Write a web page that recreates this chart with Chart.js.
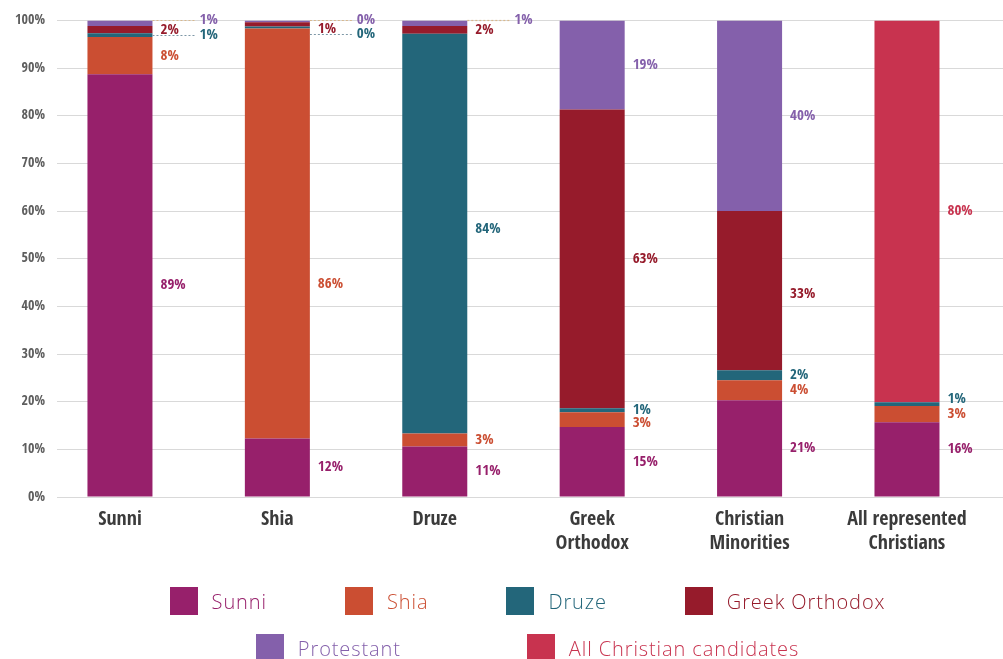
<!DOCTYPE html>
<html>
<head>
<meta charset="utf-8">
<script src="https://cdn.jsdelivr.net/npm/chart.js@4/dist/chart.umd.min.js"></script>
<style>
  html, body { margin: 0; padding: 0; background: #ffffff; }
  #wrap { position: relative; width: 1003px; height: 659px; overflow: hidden; }
  #c { position: absolute; left: 0; top: 0; }
  .lrow { position: absolute; left: 52px; right: 0; display: flex; justify-content: center; align-items: center; }
  .litem { display: flex; align-items: center; font-family: 'Open Sans', 'Noto Sans', sans-serif; font-weight: 300; font-size: 20px; letter-spacing: 0.9px; white-space: nowrap; }
  .lbox { width: 28px; height: 28px; margin-right: 14px; }
</style>
</head>
<body>
<div id="wrap">
  <canvas id="c" width="1003" height="659"></canvas>
  <div class="lrow" id="row1" style="top:587px; gap:78px;"></div>
  <div class="lrow" id="row2" style="top:634px; gap:126px;"></div>
</div>
<script>
// ---- data ----
const categories = ['Sunni', 'Shia', 'Druze', 'Greek Orthodox', 'Christian Minorities', 'All represented Christians'];
const xTickLabels = [['Sunni'], ['Shia'], ['Druze'], ['Greek', 'Orthodox'], ['Christian', 'Minorities'], ['All represented', 'Christians']];
const seriesNames = ['Sunni', 'Shia', 'Druze', 'Greek Orthodox', 'Protestant', 'All Christian candidates'];
const sunniVals      = [88.7, 12.3, 10.6, 14.7, 20.3, 15.7];
const shiaVals       = [7.8, 86.0, 2.7, 3.1, 4.2, 3.4];
const druzeVals      = [0.8, 0.4, 83.9, 0.8, 2.1, 0.8];
const greekOrthVals  = [1.5, 0.9, 1.6, 62.7, 33.4, null];
const protestantVals = [1.2, 0.4, 1.2, 18.7, 40.0, null];
const allChristVals  = [null, null, null, null, null, 80.1];
const valueLabels = [
  ['89%', '12%', '11%', '15%', '21%', '16%'],
  ['8%', '86%', '3%', '3%', '4%', '3%'],
  ['1%', '0%', '84%', '1%', '2%', '1%'],
  ['2%', '1%', '2%', '63%', '33%', null],
  ['1%', '0%', '1%', '19%', '40%', null],
  [null, null, null, null, null, '80%']
];
const yTickValues = [0, 10, 20, 30, 40, 50, 60, 70, 80, 90, 100];

// ---- styles ----
const colors = ['#97206B', '#CB4E32', '#23667A', '#961B2B', '#8460AB', '#C8334F'];
const condensed = "'Open Sans Condensed', 'Liberation Sans Narrow', 'DejaVu Sans Condensed', 'Roboto Condensed', 'Open Sans', sans-serif";
// label placement tweaks (value-axis units), [category, dataset]
const labelTweaks = [
  { c: 0, d: 4, y: 100.1, leader: true, leaderColor: '#d8b88e' },
  { c: 0, d: 2, leader: true, leaderColor: '#7d97a6' },
  { c: 1, d: 1, y: 44.6 },
  { c: 1, d: 3, y: 98.2 },
  { c: 1, d: 4, y: 100.1, leader: true, leaderColor: '#d8b88e' },
  { c: 1, d: 2, y: 97.1, leader: true, leaderColor: '#7d97a6' },
  { c: 2, d: 4, y: 100.1, leader: true, leaderColor: '#d8b88e' },
  { c: 2, d: 2, y: 56.2 },
  { c: 3, d: 1, y: 15.6 },
  { c: 4, d: 3, y: 42.6 },
  { c: 5, d: 0, y: 10.0 },
  { c: 5, d: 2, y: 20.5 }
];

const allVals = [sunniVals, shiaVals, druzeVals, greekOrthVals, protestantVals, allChristVals];
const datasets = seriesNames.map((name, i) => ({
  label: name,
  data: allVals[i].map((v, k) => ({ x: k, y: v })),
  backgroundColor: colors[i],
  borderWidth: 0,
  barPercentage: 1,
  categoryPercentage: 0.413
}));

const labelPlugin = {
  id: 'valueLabels',
  afterDatasetsDraw(chart) {
    const ctx = chart.ctx;
    const yScale = chart.scales.y;
    ctx.save();
    ctx.font = 'bold 15px ' + condensed;
    ctx.textBaseline = 'middle';
    ctx.textAlign = 'left';
    chart.data.datasets.forEach((ds, d) => {
      const meta = chart.getDatasetMeta(d);
      meta.data.forEach((bar, c) => {
        const text = valueLabels[d][c];
        if (allVals[d][c] === null || !text) return;
        const tw = labelTweaks.find(t => t.c === c && t.d === d) || {};
        const right = bar.x + bar.width / 2;
        const y = tw.y !== undefined ? yScale.getPixelForValue(tw.y) : (bar.y + bar.base) / 2;
        let x = right + 8;
        if (tw.leader) {
          x = right + 47;
          ctx.save();
          ctx.strokeStyle = tw.leaderColor;
          ctx.lineWidth = 1.2;
          ctx.setLineDash([2, 2]);
          ctx.beginPath();
          ctx.moveTo(right, Math.round(y) + 0.5);
          ctx.lineTo(right + 42, Math.round(y) + 0.5);
          ctx.stroke();
          ctx.restore();
        }
        ctx.fillStyle = colors[d];
        ctx.fillText(text, x, y);
      });
    });
    ctx.restore();
  }
};

const chart = new Chart(document.getElementById('c'), {
  type: 'bar',
  data: { datasets },
  plugins: [labelPlugin],
  options: {
    responsive: false,
    animation: false,
    layout: { padding: { top: 20, right: 0, bottom: 0, left: 0 } },
    plugins: { legend: { display: false }, tooltip: { enabled: false } },
    scales: {
      x: {
        type: 'linear',
        stacked: true,
        offset: false,
        min: -0.4,
        max: 5.61,
        afterBuildTicks: s => { s.ticks = categories.map((_, i) => ({ value: i })); },
        afterFit: s => { s.height = 162; },
        grid: { display: false, drawTicks: false, offset: false },
        border: { display: false },
        ticks: {
          autoSkip: false,
          maxRotation: 0,
          padding: 11,
          color: '#3b3b3b',
          font: { family: condensed, size: 20, weight: 'bold', lineHeight: 1.18 },
          callback: v => xTickLabels[v]
        }
      },
      y: {
        stacked: true,
        min: 0,
        max: 100,
        afterBuildTicks: s => { s.ticks = yTickValues.map(v => ({ value: v })); },
        afterFit: s => { s.width = 57; },
        grid: { color: '#d9d9d9', lineWidth: 1, drawTicks: false },
        border: { display: false },
        ticks: {
          padding: 12,
          color: '#5e5e5e',
          font: { family: condensed, size: 14, weight: '300' },
          callback: v => v + '%'
        }
      }
    }
  }
});

// HTML legend built from chart datasets
const rows = [document.getElementById('row1'), document.getElementById('row2')];
chart.data.datasets.forEach((ds, i) => {
  const item = document.createElement('div');
  item.className = 'litem';
  const box = document.createElement('span');
  box.className = 'lbox';
  box.style.background = ds.backgroundColor;
  const txt = document.createElement('span');
  txt.textContent = ds.label;
  txt.style.color = ds.backgroundColor;
  item.appendChild(box);
  item.appendChild(txt);
  rows[i < 4 ? 0 : 1].appendChild(item);
});
</script>
</body>
</html>
